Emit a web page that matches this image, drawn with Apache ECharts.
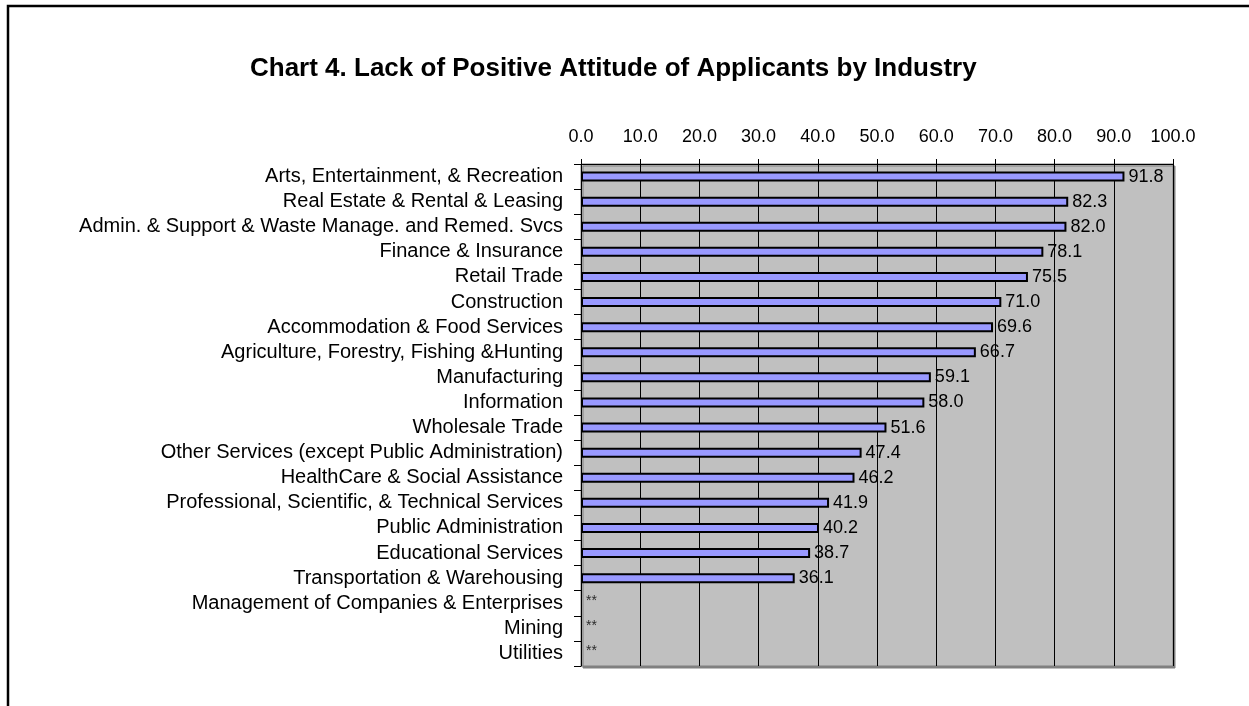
<!DOCTYPE html>
<html>
<head>
<meta charset="utf-8">
<script src="https://cdn.jsdelivr.net/npm/echarts@6/dist/echarts.min.js"></script>
<style>html,body{margin:0;padding:0;background:#fff}#c{width:1249px;height:706px}</style>
</head>
<body>
<div id="c"></div>
<script>
var titleText = 'Chart 4. Lack of Positive Attitude of Applicants by Industry';
var categories = [
  'Arts, Entertainment, & Recreation',
  'Real Estate & Rental & Leasing',
  'Admin. & Support & Waste Manage. and Remed. Svcs',
  'Finance & Insurance',
  'Retail Trade',
  'Construction',
  'Accommodation & Food Services',
  'Agriculture, Forestry, Fishing &Hunting',
  'Manufacturing',
  'Information',
  'Wholesale Trade',
  'Other Services (except Public Administration)',
  'HealthCare & Social Assistance',
  'Professional, Scientific, & Technical Services',
  'Public Administration',
  'Educational Services',
  'Transportation & Warehousing',
  'Management of Companies & Enterprises',
  'Mining',
  'Utilities'
];
var values = [91.8, 82.3, 82.0, 78.1, 75.5, 71.0, 69.6, 66.7, 59.1, 58.0, 51.6, 47.4, 46.2, 41.9, 40.2, 38.7, 36.1, null, null, null];
var suppressedMark = '**';
var xTicks = [0, 10, 20, 30, 40, 50, 60, 70, 80, 90, 100];

var suppressed = [];
categories.forEach(function (c, i) { if (values[i] === null) suppressed.push([0, c]); });

var font = '"Liberation Sans", Arial, sans-serif';
var chart = echarts.init(document.getElementById('c'), null, {renderer: 'canvas'});
chart.setOption({
  animation: false,
  backgroundColor: '#ffffff',
  textStyle: {fontFamily: font},
  title: {
    text: titleText,
    left: 245, top: 51,
    textStyle: {fontFamily: font, fontSize: 26, fontWeight: 'bold', color: '#000'}
  },
  graphic: [{
    type: 'polyline', silent: true,
    shape: {points: [[8, 720], [8, 6], [1260, 6]]},
    style: {stroke: '#000', lineWidth: 2.5, fill: null}
  }],
  grid: {
    left: 581, top: 164, right: 76, bottom: 40,
    show: true, backgroundColor: '#c0c0c0', borderColor: '#808080', borderWidth: 1,
    shadowColor: '#808080', shadowOffsetX: 2, shadowOffsetY: 2, shadowBlur: 0.01
  },
  xAxis: {
    type: 'value', position: 'top', min: xTicks[0], max: xTicks[xTicks.length - 1], interval: 10,
    axisLine: {show: true, lineStyle: {color: '#000', width: 1}},
    axisTick: {show: true, inside: false, length: 5, lineStyle: {color: '#000'}},
    axisLabel: {margin: 18, fontSize: 18, color: '#000', fontFamily: font,
      formatter: function (v) { return v.toFixed(1); }},
    splitLine: {show: true, lineStyle: {color: '#000', width: 1}}
  },
  yAxis: {
    type: 'category', data: categories, inverse: true,
    axisLine: {show: true, lineStyle: {color: '#000', width: 1}},
    axisTick: {show: true, length: 7, alignWithLabel: false, lineStyle: {color: '#000'}},
    axisLabel: {margin: 18, fontSize: 20, color: '#000', fontFamily: font, interval: 0},
    splitLine: {show: false}
  },
  series: [{
    type: 'bar', data: values, barWidth: 10,
    itemStyle: {color: '#9999ff', borderColor: '#000', borderWidth: 2},
    label: {show: true, position: 'right', distance: 4, fontSize: 18, color: '#000', fontFamily: font,
      formatter: function (p) { return p.value.toFixed(1); }}
  }, {
    type: 'scatter', data: suppressed, symbolSize: 0,
    label: {show: true, position: 'right', distance: 5, offset: [0, -2], fontSize: 14, color: '#000', fontFamily: font,
      formatter: function () { return suppressedMark; }}
  }]
});
</script>
</body>
</html>
